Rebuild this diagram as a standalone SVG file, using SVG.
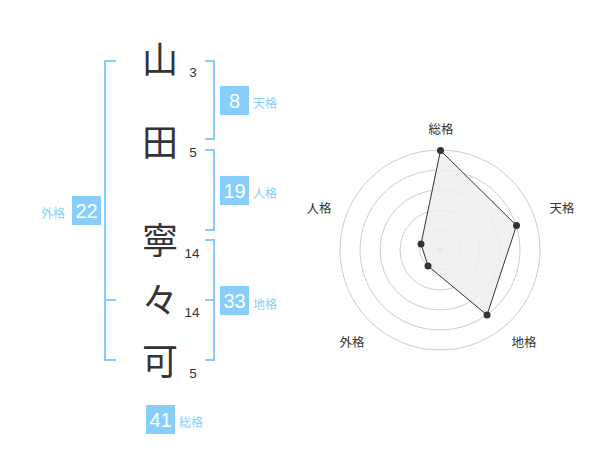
<svg xmlns="http://www.w3.org/2000/svg" width="600" height="470" viewBox="0 0 600 470">
<style>
.k{font-family:"Noto Sans CJK JP","Noto Sans CJK SC",sans-serif;font-size:36px;font-weight:400;fill:#333;text-anchor:middle}
.n{font-family:"Liberation Sans",Arial,sans-serif;font-size:13.5px;fill:#333;text-anchor:middle}
.br{fill:none;stroke:#87CEFA;stroke-width:2}
.box{fill:#87CEFA}
.bn{font-family:"Liberation Sans",Arial,sans-serif;font-size:20px;fill:#fff;text-anchor:middle}
.bl{font-family:"Noto Sans CJK JP","Noto Sans CJK SC",sans-serif;font-size:12px;fill:#87CEFA}
.ring{fill:none;stroke:#ccc;stroke-width:1}
.rl{font-family:"Noto Sans CJK JP","Noto Sans CJK SC",sans-serif;font-size:12.5px;fill:#333;text-anchor:middle}
.pt{fill:#333}
</style>
<rect width="600" height="470" fill="#fff"/>
<g id="chars">
<text class="k" x="160" y="73">山</text>
<text class="k" x="160" y="156">田</text>
<text class="k" x="160" y="254">寧</text>
<text class="k" x="160" y="314">々</text>
<text class="k" x="160" y="375">可</text>
</g>
<g id="strokes">
<text class="n" x="193" y="77">3</text>
<text class="n" x="193" y="157">5</text>
<text class="n" x="192" y="258">14</text>
<text class="n" x="192" y="317">14</text>
<text class="n" x="193" y="378">5</text>
</g>
<g id="connectors">
<path class="br" d="M116,61 H105 V360 H116 M105,300 H116"/>
<path class="br" d="M205,61 H214 V139 H205"/>
<path class="br" d="M205,150 H214 V230 H205"/>
<path class="br" d="M205,240 H214 V360 H205 M205,300 H214"/>
</g>
<g id="tenkaku">
<rect class="box" x="220" y="86" width="29" height="29"/>
<text class="bn" x="234.5" y="108">8</text>
<text class="bl" x="253" y="108">天格</text>
</g>
<g id="jinkaku">
<rect class="box" x="220" y="176" width="29" height="29"/>
<text class="bn" x="234.5" y="198">19</text>
<text class="bl" x="253" y="198">人格</text>
</g>
<g id="gaikaku">
<rect class="box" x="72" y="196" width="29" height="29"/>
<text class="bn" x="86.5" y="218">22</text>
<text class="bl" x="41" y="218">外格</text>
</g>
<g id="chikaku">
<rect class="box" x="220" y="286" width="29" height="29"/>
<text class="bn" x="234.5" y="308">33</text>
<text class="bl" x="253" y="309">地格</text>
</g>
<g id="soukaku">
<rect class="box" x="146" y="405" width="29" height="29"/>
<text class="bn" x="160.5" y="427">41</text>
<text class="bl" x="179" y="427">総格</text>
</g>
<g id="radar">
<circle class="ring" cx="440" cy="250" r="20"/>
<circle class="ring" cx="440" cy="250" r="40"/>
<circle class="ring" cx="440" cy="250" r="60"/>
<circle class="ring" cx="440" cy="250" r="80"/>
<circle class="ring" cx="440" cy="250" r="100"/>
<circle cx="440" cy="250" r="3.5" fill="#ccc"/>
<polygon points="440.5,150.5 516.5,225.5 487,315 428,266 421,244" fill="#eee" fill-opacity="0.85" stroke="#333" stroke-width="1"/>
<circle class="pt" cx="440.5" cy="150.5" r="3.5"/>
<circle class="pt" cx="516.5" cy="225.5" r="3.5"/>
<circle class="pt" cx="487" cy="315" r="3.5"/>
<circle class="pt" cx="428" cy="266" r="3.5"/>
<circle class="pt" cx="421" cy="244" r="3.5"/>
<text class="rl" x="441" y="134">総格</text>
<text class="rl" x="562" y="213">天格</text>
<text class="rl" x="319" y="213">人格</text>
<text class="rl" x="352" y="347">外格</text>
<text class="rl" x="524" y="347">地格</text>
</g>
</svg>
